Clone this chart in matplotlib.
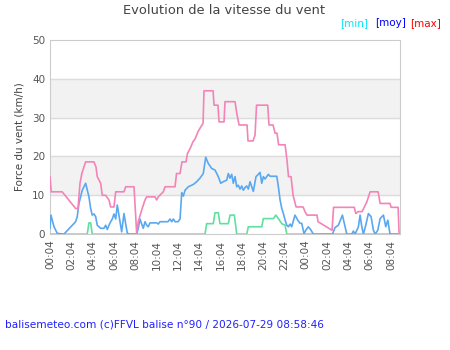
import numpy as np
import matplotlib
matplotlib.use("Agg")
import matplotlib.pyplot as plt

# Zeit in Stunden ab 00:04 (Tag 1)
t_max = [0.00, 0.12, 1.15, 2.41, 2.63, 2.82, 3.00, 3.35, 4.13, 4.32, 4.44, 4.76, 4.91, 5.23,
         5.54, 5.70, 6.01, 6.17, 6.95, 7.11, 7.89, 8.14, 8.29, 8.61, 8.92, 9.08, 9.86, 10.02,
         10.17, 10.64, 10.80, 11.74, 11.88, 12.21, 12.39, 12.77, 12.91, 13.15, 13.43, 13.62,
         13.90, 14.18, 14.37, 14.46, 15.31, 15.40, 15.77, 15.87, 16.34, 16.43, 17.37, 17.53,
         17.75, 18.50, 18.59, 19.06, 19.25, 19.39, 20.44, 20.56, 20.94, 21.13, 21.31, 21.46,
         22.07, 22.25, 22.39, 22.63, 22.82, 23.10, 23.76, 23.94, 24.13, 25.07, 25.16, 26.48,
         26.62, 28.57, 28.70, 28.92, 29.30, 29.74, 30.05, 30.80, 30.99, 31.92, 32.02, 32.68, 32.77]
v_max = [14.8, 10.9, 10.9, 6.6, 6.6, 13.1, 15.7, 18.6, 18.6, 17.3, 14.8, 13.1, 10.0, 10.0,
         8.8, 7.0, 7.0, 10.9, 10.9, 12.2, 12.2, 0.2, 3.2, 6.2, 8.8, 9.6, 9.6, 8.8,
         9.6, 10.9, 12.2, 12.2, 15.6, 15.6, 18.6, 18.6, 20.8, 22.0, 23.8, 24.5,
         26.4, 27.7, 28.5, 36.9, 36.9, 33.2, 33.2, 28.9, 28.9, 34.1, 34.1, 31.2,
         28.1, 28.1, 24.0, 24.0, 25.5, 33.2, 33.2, 28.1, 28.1, 26.0, 26.0, 23.0,
         23.0, 19.0, 14.8, 14.8, 10.0, 7.0, 7.0, 5.8, 4.9, 4.9, 3.2, 1.0,
         6.9, 6.9, 5.3, 5.8, 5.8, 8.3, 10.9, 10.9, 7.9, 7.9, 6.9, 6.9, 0.0]

t_moy = [0.00, 0.09, 0.38, 0.69, 1.31, 2.41, 2.56, 2.72, 3.03, 3.35, 3.66, 3.82, 3.97, 4.13,
         4.29, 4.44, 4.76, 5.07, 5.23, 5.38, 5.54, 5.70, 5.85, 6.01, 6.17, 6.32, 6.57, 6.73,
         6.95, 7.11, 7.26, 7.42, 8.14, 8.29, 8.45, 8.61, 8.76, 8.92, 9.08, 9.23, 9.39, 10.02,
         10.17, 10.33, 11.08, 11.27, 11.43, 11.58, 11.74, 12.02, 12.21, 12.37, 12.52, 12.68,
         12.99, 13.46, 13.77, 14.08, 14.39, 14.62, 14.86, 15.18, 15.49, 15.80, 16.03, 16.27,
         16.59, 16.74, 16.90, 17.06, 17.21, 17.37, 17.53, 17.68, 17.84, 18.00, 18.15, 18.31,
         18.47, 18.62, 18.78, 18.94, 19.09, 19.34, 19.56, 19.72, 19.88, 20.03, 20.19, 20.50,
         20.66, 21.29, 21.44, 21.60, 21.76, 21.91, 22.07, 22.23, 22.38, 22.54, 22.69, 23.00,
         23.26, 23.47, 23.63, 23.85, 24.01, 24.25, 24.51, 24.72, 26.51, 26.76, 27.07, 27.45,
         27.70, 27.86, 28.33, 28.48, 28.64, 28.95, 29.11, 29.27, 29.42, 29.64, 29.89, 30.14,
         30.36, 30.52, 30.77, 30.99, 31.30, 31.52, 31.71, 31.92, 32.68]
v_moy = [1.5, 4.9, 1.9, 0.2, 0.0, 3.2, 4.5, 7.9, 11.3, 13.1, 9.6, 6.6, 4.9, 5.2,
         4.5, 2.3, 1.5, 1.5, 2.3, 1.2, 2.3, 3.2, 3.9, 5.2, 3.9, 7.5, 3.2, 0.6,
         5.3, 2.6, 0.3, 0.0, 0.0, 1.5, 3.9, 2.6, 1.5, 3.2, 2.3, 1.9, 2.9, 2.9,
         2.6, 3.2, 3.2, 3.9, 3.2, 3.9, 3.2, 3.2, 3.9, 10.7, 9.8, 11.3,
         12.2, 12.8, 13.5, 14.4, 15.6, 19.8, 18.2, 16.9, 16.5, 14.8, 13.1, 13.5,
         13.9, 15.6, 14.4, 15.4, 13.1, 14.8, 12.2, 12.6, 11.6, 12.4, 11.3, 12.0,
         12.4, 11.6, 13.5, 12.2, 11.0, 14.8, 15.4, 15.9, 13.1, 14.8, 14.2, 15.4,
         14.9, 14.9, 12.2, 8.8, 6.6, 5.3, 3.6, 2.3, 1.9, 2.6, 1.9, 4.9,
         3.6, 2.8, 2.8, 0.1, 1.0, 1.9, 1.0, 0.0, 0.0, 1.7, 2.3, 4.9,
         1.9, 0.0, 0.0, 0.8, 0.0, 1.9, 4.9, 1.9, 0.0, 2.3, 5.3, 4.5,
         1.0, 0.0, 1.0, 4.0, 4.9, 1.9, 3.6, 0.0, 0.0]

t_min = [0.00, 3.50, 3.66, 3.82, 3.97, 14.55, 14.71, 15.33, 15.49, 15.80, 15.96, 16.74, 16.90,
         17.31, 17.53, 18.47, 18.62, 19.88, 20.03, 20.97, 21.20, 21.44, 21.76, 22.07, 22.23, 32.77]
v_min = [0.0, 0.0, 2.9, 2.9, 0.0, 0.0, 2.7, 2.7, 5.5, 5.5, 2.7, 2.7, 4.9,
         4.9, 0.0, 0.0, 1.9, 1.9, 4.0, 4.0, 4.9, 4.0, 2.7, 2.3, 0.0, 0.0]

tick_pos = np.arange(0, 33, 2)
tick_labels = ["00:04", "02:04", "04:04", "06:04", "08:04", "10:04", "12:04", "14:04",
               "16:04", "18:04", "20:04", "22:04", "00:04", "02:04", "04:04", "06:04", "08:04"]

fig = plt.figure(figsize=(4.5, 3.5), dpi=100)
ax = fig.add_axes([0.111, 0.331, 0.778, 0.555])

# graue Baender
for y0 in [10, 30]:
    ax.axhspan(y0, y0 + 10, color="#f2f2f2", zorder=0)
for y in [10, 20, 30, 40]:
    ax.axhline(y, color="#dddddd", linewidth=1, zorder=1)

ax.plot(t_min, v_min, color="#5fe0a0", linewidth=1.2, zorder=3)
ax.plot(t_moy, v_moy, color="#5aa8f0", linewidth=1.2, zorder=4)
ax.plot(t_max, v_max, color="#f384b8", linewidth=1.2, zorder=5)

ax.set_xlim(0, 32.86)
ax.set_ylim(0, 50)
ax.set_yticks([0, 10, 20, 30, 40, 50])
ax.set_xticks(tick_pos)
ax.set_xticklabels(tick_labels, rotation=90)
ax.tick_params(axis="both", length=0, labelsize=7.5, colors="#555555")
ax.tick_params(axis="x", pad=4)
for s in ax.spines.values():
    s.set_color("#cccccc")

fig.text(0.044, 0.609, "Force du vent (km/h)", rotation=90, ha="center", va="center",
         fontsize=7.5, color="#444444")
fig.text(0.498, 0.97, "Evolution de la vitesse du vent", ha="center", va="center",
         fontsize=9.4, color="#444444")
fig.text(0.755, 0.933, "[min]", ha="left", va="center", fontsize=7.5, color="#00e5ff")
fig.text(0.833, 0.933, "[moy]", ha="left", va="center", fontsize=7.5, color="#0000ff")
fig.text(0.911, 0.933, "[max]", ha="left", va="center", fontsize=7.5, color="#ff0000")
fig.text(0.011, 0.074, "balisemeteo.com (c)FFVL balise n\u00b090 / 2026-07-29 08:58:46",
         ha="left", va="center", fontsize=7.55, color="#2020ff")

fig.savefig("out.png", dpi=100)
